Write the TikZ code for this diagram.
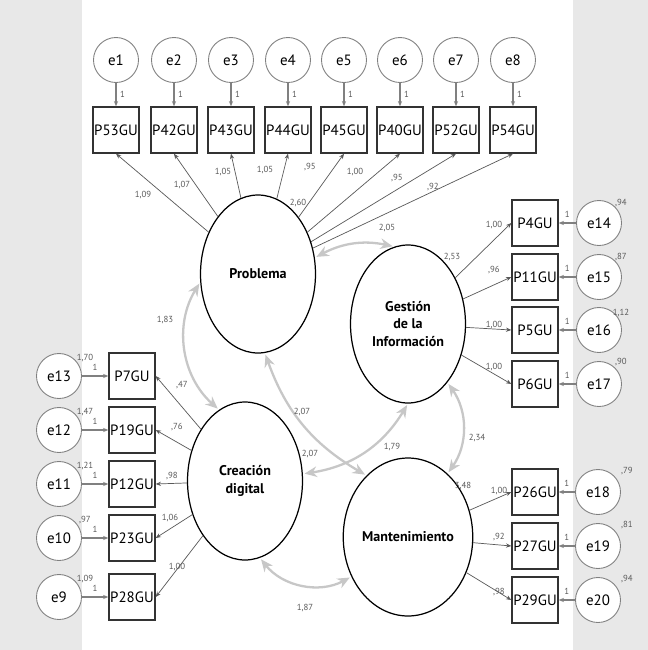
\documentclass[tikz,border=0pt]{standalone}
\usepackage{fontspec}
\setmainfont{PT Sans}
\usetikzlibrary{arrows.meta,shapes.geometric}

\definecolor{fondo}{HTML}{E8E8E8}

\begin{document}
\begin{tikzpicture}[
        x=0.02cm, y=-0.02cm,
        err/.style={circle, draw=black!50, fill=white, line width=0.5pt, minimum size=0.9cm,
            inner sep=0pt, font=\fontsize{8.5}{10}\selectfont},
        obs/.style={rectangle, draw=black!80, fill=white, line width=0.8pt,
            minimum size=0.92cm, inner sep=0pt, font=\fontsize{8.5}{10}\selectfont},
        latent/.style={ellipse, draw=black, fill=white, line width=0.7pt,
            minimum width=2.3cm, minimum height=3.16cm, inner sep=0pt,
            align=center, font=\fontsize{8}{10}\selectfont\bfseries},
        num/.style={inner sep=0pt, text=black!65, font=\fontsize{5}{6}\selectfont},
        load/.style={draw=black!65, line width=0.4pt, -{Stealth[length=3pt,width=2.4pt]}},
        fix/.style={draw=black!50, line width=0.8pt, -{Stealth[length=3pt,width=2.4pt]}},
        cov/.style={draw=black!22, line width=1.3pt, shorten <=1pt, shorten >=1pt,
            {Stealth[length=7pt,width=6pt]}-{Stealth[length=7pt,width=6pt]}}
    ]

    % Fondo
    \fill[fondo] (0,0) rectangle (648,650);
    \fill[white] (82,0) rectangle (573,650);
    \useasboundingbox (0,0) rectangle (648,650);

    % Factores
    \node[latent] (prob) at (258,274) {Problema};
    \node[latent] (gest) at (408,324) {Gestión\\de la\\Información};
    \node[latent] (crea) at (245,481) {Creación\\digital};
    \node[latent] (mant) at (408,537) {Mantenimiento};

    % Problema
    \foreach \i/\x/\p/\v/\lx/\ly in {1/116/P53GU/{1,09}/143/195, 2/174/P42GU/{1,07}/182/185,
            3/231/P43GU/{1,05}/223/172, 4/288/P44GU/{1,05}/265/170,
            5/344/P45GU/{,95}/310/167, 6/400/P40GU/{1,00}/355/172,
            7/456/P52GU/{,95}/397/178, 8/513/P54GU/{,92}/433/187} {
        \node[err] (e\i) at (\x,60) {e\i};
        \node[obs] (p\i) at (\x,130) {\p};
        \draw[fix] (e\i) -- node[num, right=2pt] (up\i) {1} (p\i);
        \draw[load] (prob) -- (p\i.south);
        \node[num] (lp\i) at (\lx,\ly) {\v};
    }

    % Gestión de la Información
    \foreach \i/\y/\p/\e/\v/\ly/\r/\ry in {1/223/P4GU/14/{1,00}/225/{,94}/203,
            2/277/P11GU/15/{,96}/270/{,87}/257, 3/330/P5GU/16/{1,00}/325/{1,12}/313,
            4/384/P6GU/17/{1,00}/367/{,90}/362} {
        \node[obs] (g\i) at (535,\y) {\p};
        \node[err] (e\e) at (599,\y) {e\e};
        \draw[fix] (e\e) -- node[num, above=3pt] (ug\i) {1} (g\i);
        \draw[load] (gest) -- (g\i.west);
        \node[num] (lg\i) at (494,\ly) {\v};
        \node[num] (vg\i) at (621,\ry) {\r};
    }

    % Creación digital
    \foreach \i/\y/\p/\e/\v/\lx/\ly/\r in {1/376/P7GU/13/{,47}/182/385/{1,70},
            2/430/P19GU/12/{,76}/177/427/{1,47}, 3/484/P12GU/11/{,98}/172/476/{1,21},
            4/538/P23GU/10/{1,06}/170/518/{,97}, 5/597/P28GU/9/{1,00}/177/567/{1,09}} {
        \node[obs] (c\i) at (132,\y) {\p};
        \node[err] (e\e) at (59,\y) {e\e};
        \draw[fix] (e\e) -- node[num, above=3pt] (uc\i) {1} (c\i);
        \draw[load] (crea) -- (c\i.east);
        \node[num] (lc\i) at (\lx,\ly) {\v};
        \node[num] (vc\i) at (85,\y-18) {\r};
    }

    % Mantenimiento
    \foreach \i/\y/\p/\e/\v/\ly/\r in {1/492/P26GU/18/{1,00}/491/{,79},
            2/546/P27GU/19/{,92}/537/{,81}, 3/600/P29GU/20/{,98}/592/{,94}} {
        \node[obs] (m\i) at (535,\y) {\p};
        \node[err] (e\e) at (598,\y) {e\e};
        \draw[fix] (e\e) -- node[num, above=3pt] (um\i) {1} (m\i);
        \draw[load] (mant) -- (m\i.west);
        \node[num] (lm\i) at (499,\ly) {\v};
        \node[num] (vm\i) at (627,\y-21) {\r};
    }

    % Varianzas de los factores
    \node[num] (vprob) at (298,203) {2,60};
    \node[num] (vgest) at (452,257) {2,53};
    \node[num] (vcrea) at (310,454) {2,07};
    \node[num] (vmant) at (463,486) {3,48};

    % Covarianzas
    \draw[cov] (prob.16) to[bend left=20] (gest.100);
    \draw[cov] (prob.188) to[bend right=40] (crea.110);
    \draw[cov] (prob.275) to[bend right=20] (mant.124);
    \draw[cov] (crea.7) to[bend right=25] (gest.270);
    \draw[cov] (gest.304) to[bend left=35] (mant.58);
    \draw[cov] (crea.281) to[bend right=40] (mant.215);

    \node[num] (kpg) at (387,228) {2,05};
    \node[num] (kpc) at (165,320) {1,83};
    \node[num] (kpm) at (302,412) {2,07};
    \node[num] (kcg) at (392,447) {1,79};
    \node[num] (kgm) at (477,438) {2,34};
    \node[num] (kcm) at (305,608) {1,87};

\end{tikzpicture}
\end{document}
